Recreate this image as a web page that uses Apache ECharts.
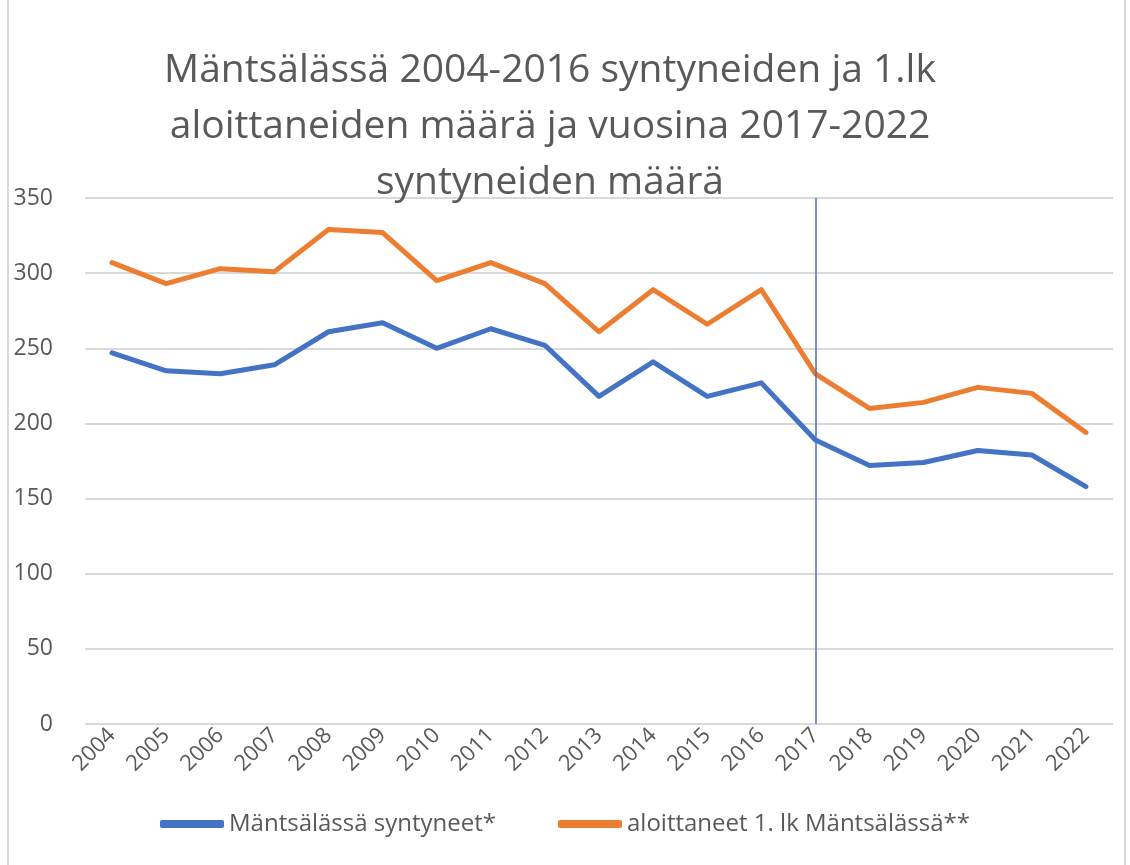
<!DOCTYPE html>
<html>
<head>
<meta charset="utf-8">
<script src="https://cdn.jsdelivr.net/npm/echarts@6/dist/echarts.min.js"></script>
<style>
  html, body { margin: 0; padding: 0; background: #fff; }
  #chart { width: 1130px; height: 865px; }
</style>
</head>
<body>
<div id="chart"></div>
<script>
  var years = ['2004', '2005', '2006', '2007', '2008', '2009', '2010', '2011', '2012', '2013',
               '2014', '2015', '2016', '2017', '2018', '2019', '2020', '2021', '2022'];
  var syntyneet = [247, 235, 233, 239, 261, 267, 250, 263, 252, 218, 241, 218, 227, 189, 172, 174, 182, 179, 158];
  var aloittaneet = [307, 293, 303, 301, 329, 327, 295, 307, 293, 261, 289, 266, 289, 233, 210, 214, 224, 220, 194];
  var yTicks = [0, 50, 100, 150, 200, 250, 300, 350];
  var markYear = '2017';

  var font = 'Open Sans';
  var myChart = echarts.init(document.getElementById('chart'));
  var option = {
    backgroundColor: '#fff',
    animation: false,
    title: {
      text: 'Mäntsälässä 2004-2016 syntyneiden ja 1.lk\naloittaneiden määrä ja vuosina 2017-2022\nsyntyneiden määrä',
      left: 545,
      textAlign: 'center',
      top: 38,
      textStyle: { fontFamily: font, fontSize: 39, fontWeight: 'normal', color: '#595959', lineHeight: 56 }
    },
    graphic: [{
      type: 'rect',
      shape: { x: 8, y: -2, width: 1117, height: 870 },
      style: { fill: 'none', stroke: '#d9d9d9', lineWidth: 2 }
    }],
    legend: {
      bottom: 24,
      left: 'center',
      itemWidth: 64,
      itemHeight: 8,
      itemGap: 62,
      icon: 'roundRect',
      textStyle: { fontFamily: font, fontSize: 24, color: '#595959' },
      data: ['Mäntsälässä syntyneet*', 'aloittaneet 1. lk Mäntsälässä**']
    },
    grid: { left: 85, right: 17, top: 198, bottom: 141 },
    xAxis: {
      type: 'category',
      data: years,
      boundaryGap: true,
      axisLine: { show: false },
      axisTick: { show: false },
      axisLabel: { rotate: 45, fontFamily: font, fontSize: 22, color: '#595959', margin: 8, interval: 0 }
    },
    yAxis: {
      type: 'value',
      min: yTicks[0],
      max: yTicks[yTicks.length - 1],
      interval: 50,
      axisLine: { show: false },
      axisTick: { show: false },
      axisLabel: { fontFamily: font, fontSize: 23, color: '#595959', margin: 32 },
      splitLine: { lineStyle: { color: '#d9d9d9', width: 2 } }
    },
    series: [
      {
        name: 'Mäntsälässä syntyneet*',
        type: 'line',
        data: syntyneet,
        symbol: 'none',
        color: '#4472C4',
        lineStyle: { width: 5, cap: 'round', join: 'round' },
        markLine: {
          silent: true,
          symbol: 'none',
          label: { show: false },
          lineStyle: { color: '#4472C4', width: 1.5, type: 'solid' },
          data: [{ xAxis: markYear }]
        }
      },
      {
        name: 'aloittaneet 1. lk Mäntsälässä**',
        type: 'line',
        data: aloittaneet,
        symbol: 'none',
        color: '#ED7D31',
        lineStyle: { width: 5, cap: 'round', join: 'round' }
      }
    ]
  };
  option && myChart.setOption(option, true);
</script>
</body>
</html>
